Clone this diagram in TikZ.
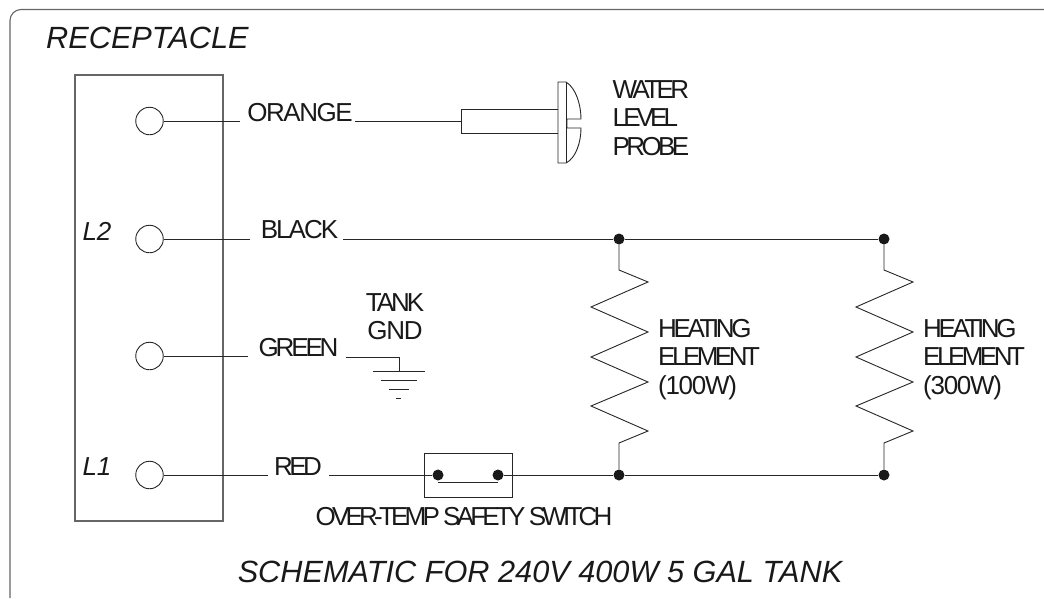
\documentclass[tikz,border=0pt]{standalone}
\usepackage{fontspec}
\setmainfont{Liberation Sans}
\newcommand{\tracked}[2]{{\addfontfeature{LetterSpace=#1}#2}}
\usetikzlibrary{calc}
\tikzset{
    wire/.style={draw=black!85, line width=0.9pt},
    frameline/.style={draw=black!60, line width=1.1pt},
    terminal/.style={circle, draw=black!85, fill=white, line width=0.9pt, minimum size=27.5pt, inner sep=0pt},
    junction/.style={circle, fill=black!90, minimum size=11pt, inner sep=0pt},
    lbl/.style={font=\fontsize{26}{28.5}\selectfont, text=black!90, inner sep=0pt, align=left},
    titletext/.style={font=\fontsize{30.7}{34}\selectfont\itshape, text=black!90, inner sep=0pt},
    pinname/.style={font=\fontsize{26}{29}\selectfont\itshape, text=black!90, inner sep=0pt}
}
\begin{document}
\begin{tikzpicture}[x=1pt, y=-1pt]
    \useasboundingbox (0,0) rectangle (1044,598);

    % outer frame
    \draw[frameline, rounded corners=11pt] (10,598) -- (10,9.5) -- (1044,9.5);

    \node[titletext, anchor=west] (title) at (46,38) {RECEPTACLE};
    \node[titletext] (caption) at (540,572) {SCHEMATIC FOR 240V 400W 5 GAL TANK};

    % receptacle
    \draw[frameline] (75,75) rectangle (223,521);
    \node[terminal] (orangeterm) at (149.5,121) {};
    \node[terminal] (blackterm) at (149.5,239) {};
    \node[terminal] (greenterm) at (149.5,356) {};
    \node[terminal] (redterm) at (149.5,475) {};
    \node[pinname] (ltwo) at (97,231) {L2};
    \node[pinname] (lone) at (97,467) {L1};

    % wire labels
    \node[lbl, anchor=center] (orange) at (300,112.5) {\tracked{-5.6}{ORANGE}};
    \node[lbl, anchor=center] (black) at (299.5,229.5) {\tracked{-7.7}{BLACK}};
    \node[lbl, anchor=center] (green) at (298.5,348) {\tracked{-12}{GREEN}};
    \node[lbl, anchor=center] (red) at (298,467) {\tracked{-14}{RED}};

    \coordinate (orangeout) at (240,121);
    \coordinate (orangein) at (355,121);
    \coordinate (blackout) at (250,239);
    \coordinate (blackin) at (343,239);
    \coordinate (greenout) at (248,356);
    \coordinate (greenin) at (346,357);
    \coordinate (redout) at (268,475);
    \coordinate (redin) at (329,475);

    \draw[wire] (orangeterm) -- (orangeout);
    \draw[wire] (blackterm) -- (blackout);
    \draw[wire] (greenterm) -- (greenout);
    \draw[wire] (redterm) -- (redout);

    % probe
    \coordinate (probeback) at (461,121);
    \draw[wire] (orangein) -- (probeback);
    \draw[wire] (558,109) -- (461,109) -- (461,133) -- (558,133);
    \draw[wire] (558,82) -- (558,163) -- (566,163) .. controls (576,158) and (581,142) .. (581,128) -- (567,128) -- (567,119) -- (581,119) .. controls (581,105) and (576,88) .. (566,82) -- cycle;
    \draw[wire] (566,82) -- (566,163);
    \node[lbl, anchor=north west] (probe) at (612.5,80) {\tracked{-14}{WATER}\\\tracked{-15}{LEVEL}\\\tracked{-14}{PROBE}};

    % black bus
    \node[junction] (topa) at (619,239) {};
    \node[junction] (topb) at (884,239) {};
    \node[junction] (bota) at (619,475) {};
    \node[junction] (botb) at (884,475) {};
    \draw[wire] (blackin) -- (topa) -- (topb);

    % heating elements
    \foreach \n/\x in {a/619, b/884} {
        \draw[wire] (top\n) -- (\x,270) -- (\x+29,282) -- (\x-28,307) -- (\x+29,332) -- (\x-28,357) -- (\x+29,382) -- (\x-28,406) -- (\x+29,431) -- (\x,443) -- (bot\n);
    }
    \node[lbl, anchor=north west] (heata) at (658,319) {\tracked{-13}{HEATING}\\\tracked{-13.5}{ELEMENT}\\\tracked{-5}{(100W)}};
    \node[lbl, anchor=north west] (heatb) at (923,319) {\tracked{-13}{HEATING}\\\tracked{-13.5}{ELEMENT}\\\tracked{-5}{(300W)}};

    % ground
    \coordinate (gndtop) at (399,357);
    \coordinate (gndbar) at (399,371);
    \draw[wire] (greenin) -- (gndtop) -- (gndbar);
    \draw[wire] (373,371) -- (425,371);
    \draw[wire] (381,380) -- (417,380);
    \draw[wire] (389,389) -- (409,389);
    \draw[wire] (396,398) -- (401,398);
    \node[lbl, anchor=north, align=center] (tank) at (395,293) {\tracked{-11.5}{TANK}\\\tracked{-5}{GND}};

    % switch
    \draw[wire] (424,453) rectangle (512,497);
    \node[junction] (swa) at (438,475) {};
    \node[junction] (swb) at (498,475) {};
    \draw[wire] (redin) -- (swa);
    \draw[wire] (swa.south) ++(0,2) -- ($(swb.south)+(0,2)$);
    \draw[wire] (swb) -- (bota) -- (botb);
    \node[lbl, anchor=center] (swlabel) at (464,517) {\tracked{-14.6}{OVER-TEMP SAFETY SWITCH}};
\end{tikzpicture}
\end{document}
